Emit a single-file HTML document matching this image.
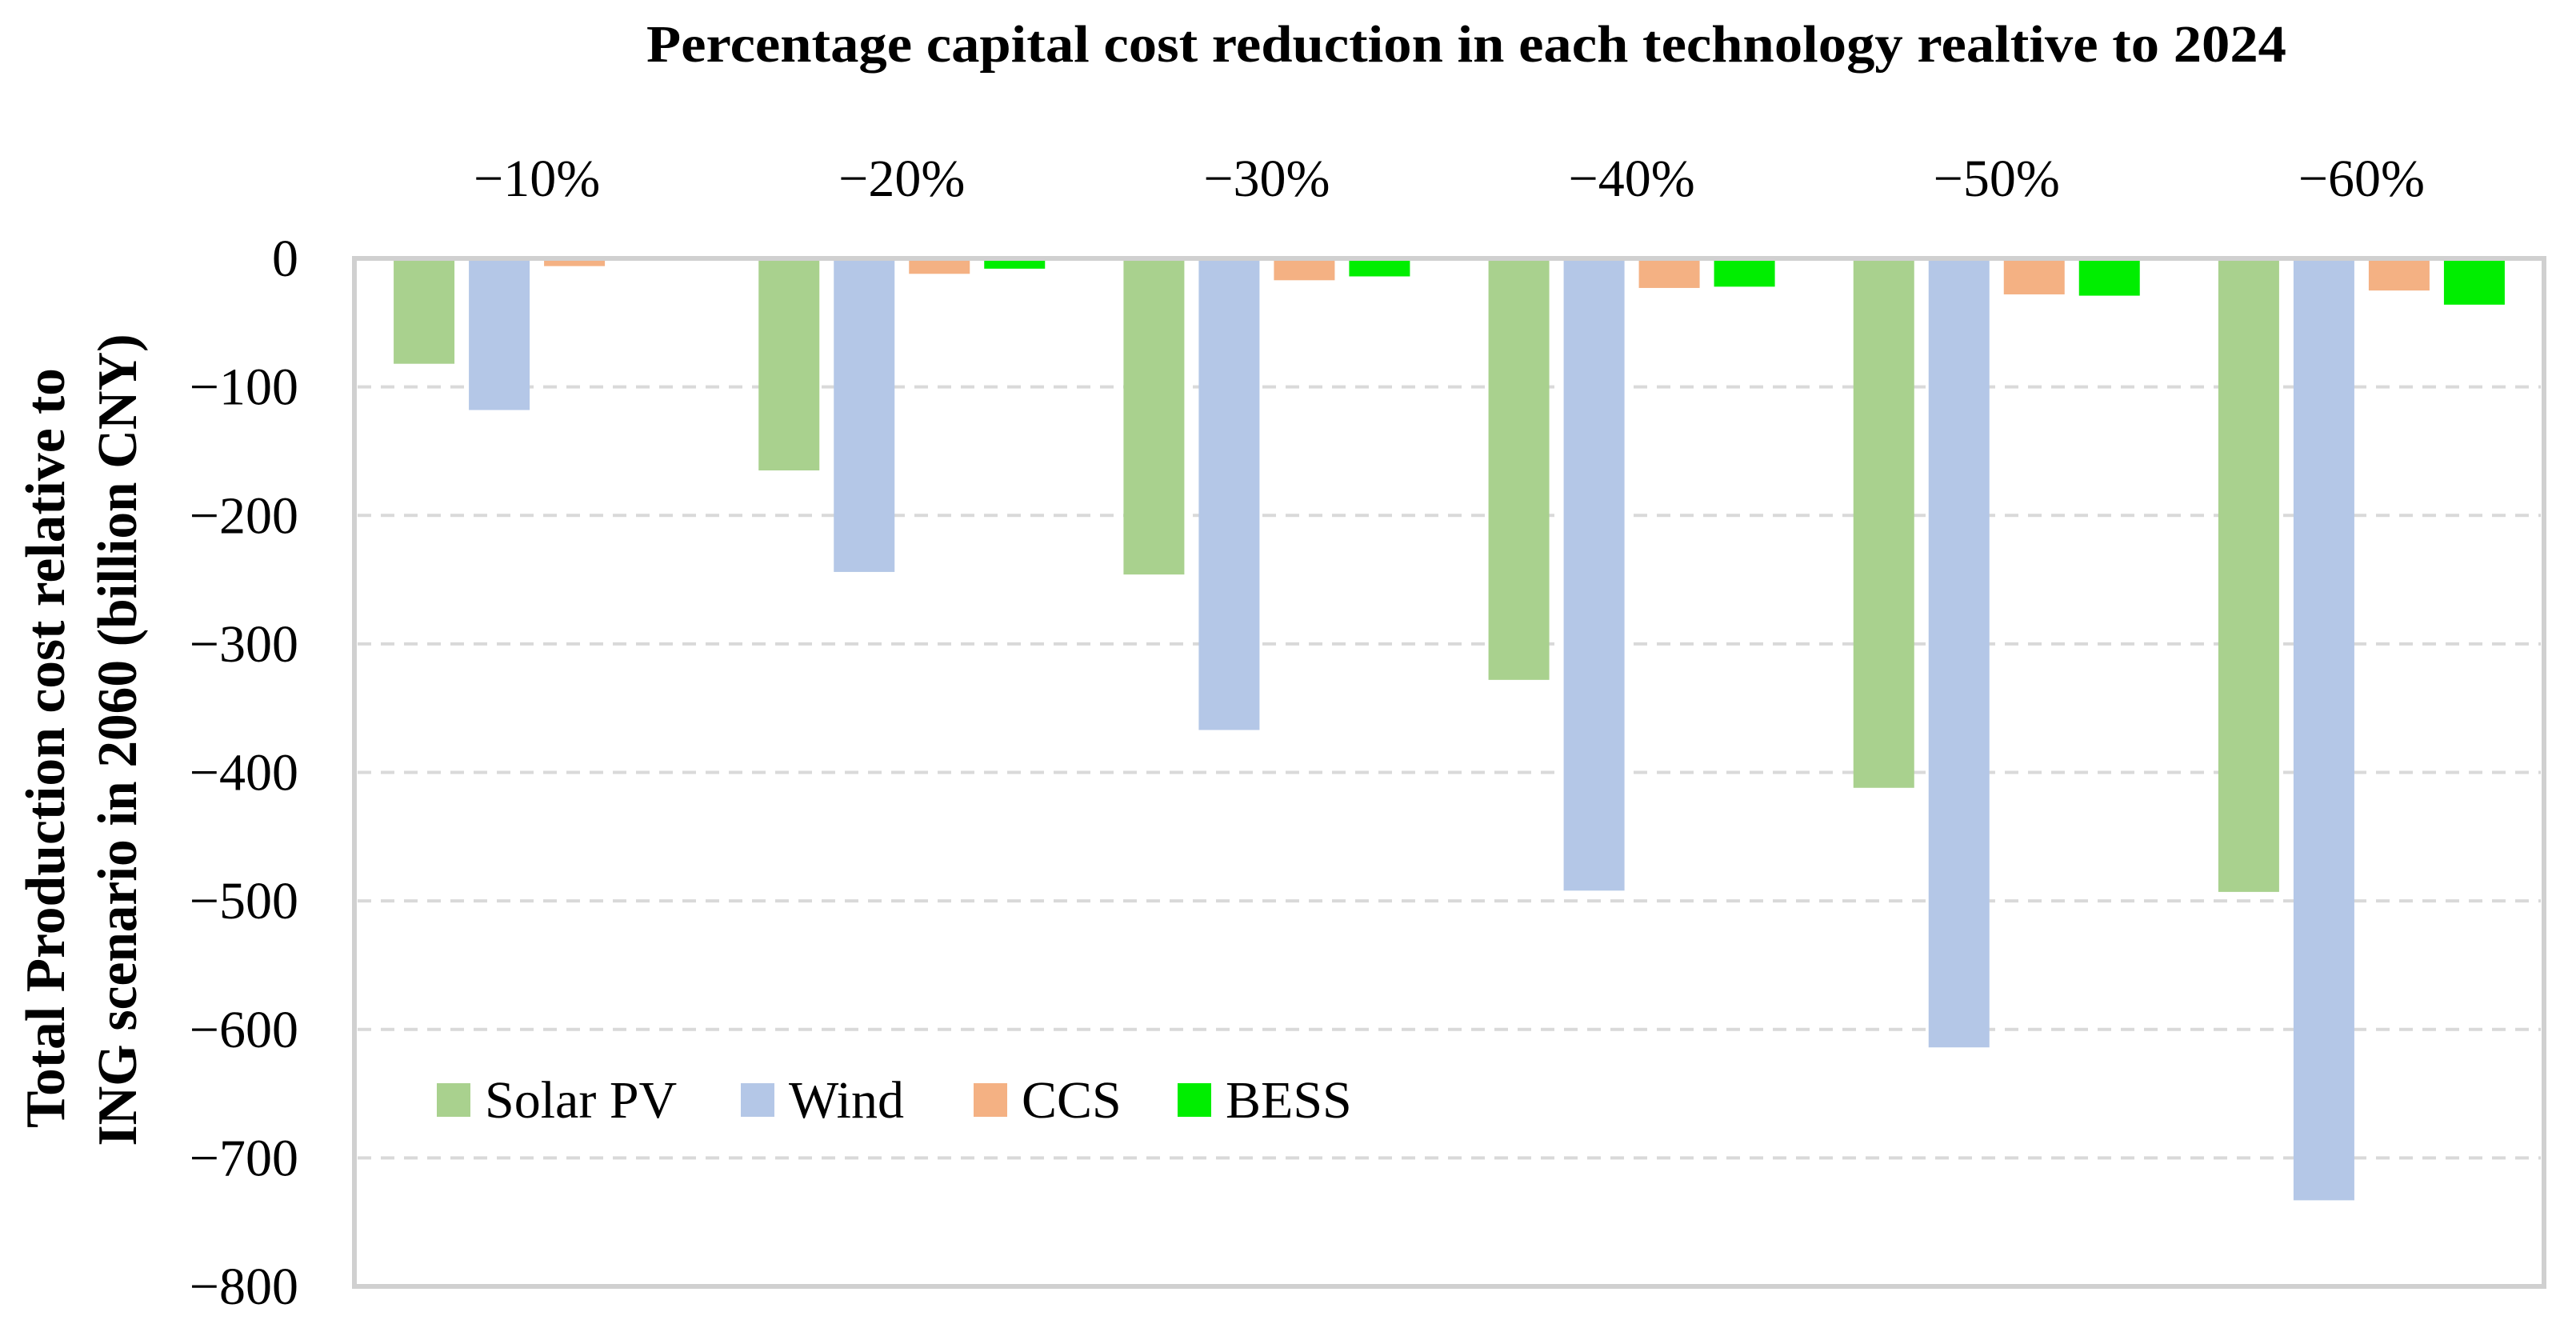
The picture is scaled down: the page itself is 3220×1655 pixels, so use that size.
<!DOCTYPE html>
<html><head><meta charset="utf-8">
<style>
html,body{margin:0;padding:0;background:#fff;}
svg{display:block;}
text{font-family:"Liberation Serif",serif;fill:#000;}
</style></head>
<body>
<svg id="chart" width="3220" height="1655" viewBox="0 0 3220 1655" xmlns="http://www.w3.org/2000/svg">
  <text x="1833" y="77" font-size="66" font-weight="bold" text-anchor="middle" textLength="2050" lengthAdjust="spacingAndGlyphs">Percentage capital cost reduction in each technology realtive to 2024</text>
  <g id="grid"></g>
  <g id="bars"></g>
  <g id="frame"></g>
  <g id="yticks"></g>
  <g id="xcats"></g>
  <text transform="translate(80,935) rotate(-90)" font-size="70" font-weight="bold" text-anchor="middle" textLength="950" lengthAdjust="spacingAndGlyphs">Total Production cost relative to</text>
  <text transform="translate(170,925) rotate(-90)" font-size="70" font-weight="bold" text-anchor="middle" textLength="1015" lengthAdjust="spacingAndGlyphs">ING scenario in 2060 (billion CNY)</text>
  <g id="legend"></g>
</svg>
<script>
const categories = ["\u221210%", "\u221220%", "\u221230%", "\u221240%", "\u221250%", "\u221260%"];
const seriesNames = ["Solar PV", "Wind", "CCS", "BESS"];
const solarPV = [-82, -165, -246, -328, -412, -493];
const wind = [-118, -244, -367, -492, -614, -733];
const ccs = [-6, -12, -17, -23, -28, -25];
const bess = [-1, -8, -14, -22, -29, -36];
const yTicks = [0, -100, -200, -300, -400, -500, -600, -700, -800];
const yTickLabels = ["0", "\u2212100", "\u2212200", "\u2212300", "\u2212400", "\u2212500", "\u2212600", "\u2212700", "\u2212800"];

const colors = ["#a9d18e", "#b4c7e7", "#f4b183", "#00ee00"];
const NS = "http://www.w3.org/2000/svg";
const X0 = 443, X1 = 3180, Y0 = 323, Y1 = 1608;
const yMin = -800, yMax = 0;
function yScale(v){ return Y0 + (yMax - v) / (yMax - yMin) * (Y1 - Y0); }
const groupW = (X1 - X0) / categories.length;
function xCenter(i){ return X0 + groupW * (i + 0.5); }
const barW = 76, barStep = 94;
function mk(tag, attrs, parent){
  const e = document.createElementNS(NS, tag);
  for (const k in attrs) e.setAttribute(k, attrs[k]);
  parent.appendChild(e);
  return e;
}
const grid = document.getElementById('grid');
const yt = document.getElementById('yticks');
yTicks.forEach((v, i) => {
  const y = yScale(v);
  if (v !== 0 && v !== yMin) {
    const l = mk('line', {x1: X0 + 4, x2: X1 - 4, y1: y, y2: y, stroke: '#d9d9d9', 'stroke-width': 4, 'stroke-dasharray': '17 12'}, grid);
    
    
  }
  const t = mk('text', {x: 373, y: y + 22, 'font-size': 66, 'text-anchor': 'end'}, yt);
  t.textContent = yTickLabels[i];
  
  
});
const bars = document.getElementById('bars');
const series = [solarPV, wind, ccs, bess];
series.forEach((vals, s) => {
  vals.forEach((v, i) => {
    const cx = xCenter(i) + (s - 1.5) * barStep;
    const y0 = yScale(0), y = yScale(v);
    const r = mk('rect', {x: cx - barW / 2, y: Math.min(y0, y), width: barW, height: Math.abs(y - y0), fill: colors[s]}, bars);
    
    
  });
});
const frame = document.getElementById('frame');
const fr = mk('rect', {x: X0, y: Y0, width: X1 - X0, height: Y1 - Y0, fill: 'none', stroke: '#d0d0d0', 'stroke-width': 6}, frame);


const xc = document.getElementById('xcats');
categories.forEach((c, i) => {
  const t = mk('text', {x: xCenter(i), y: 245, 'font-size': 66, 'text-anchor': 'middle'}, xc);
  t.textContent = c;
  
  
});
const lg = document.getElementById('legend');
const legX = [546, 926, 1217, 1472];
seriesNames.forEach((n, s) => {
  const g = mk('g', {}, lg);
  
  
  const r = mk('rect', {x: legX[s], y: 1354, width: 42, height: 42, fill: colors[s]}, g);
  
  
  const t = mk('text', {x: legX[s] + 60, y: 1397, 'font-size': 66}, g);
  t.textContent = n;
  
  
});
</script>
</body></html>
